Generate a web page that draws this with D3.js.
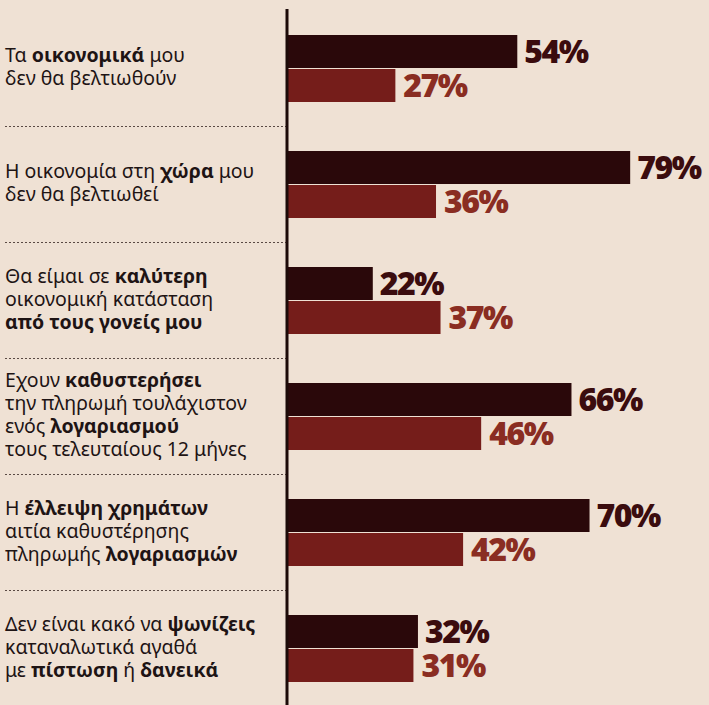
<!DOCTYPE html>
<html>
<head>
<meta charset="utf-8">
<script src="https://cdn.jsdelivr.net/npm/d3@7"></script>
<style>
  body { margin: 0; background: #efe1d4; }
  svg { display: block; }
  .cat { font-family: 'Noto Sans', sans-serif; font-size: 19.5px; fill: #1e1414; }
  .val { font-family: 'Open Sans', sans-serif; font-weight: 800; font-size: 32px; letter-spacing: -1.5px; }
</style>
</head>
<body>
<svg width="709" height="705"></svg>
<script>
// ** marks bold words, | breaks a line
const categories = [
  'Τα **οικονομικά** μου|δεν θα βελτιωθούν',
  'Η οικονομία στη **χώρα** μου|δεν θα βελτιωθεί',
  'Θα είμαι σε **καλύτερη**|οικονομική κατάσταση|**από τους γονείς μου**',
  'Εχουν **καθυστερήσει**|την πληρωμή τουλάχιστον|ενός **λογαριασμού**|τους τελευταίους 12 μήνες',
  'Η **έλλειψη χρημάτων**|αιτία καθυστέρησης|πληρωμής **λογαριασμών**',
  'Δεν είναι κακό να **ψωνίζεις**|καταναλωτικά αγαθά|με **πίστωση** ή **δανεικά**'
];
const darkValues = [54, 79, 22, 66, 70, 32];
const redValues = [27, 36, 37, 46, 42, 31];

const svg = d3.select('svg');
const axisX = 287;

const y = d3.scaleBand()
  .domain(categories)
  .range([10, 706]);

const x = d3.scaleLinear()
  .domain([3, 100])
  .range([axisX, axisX + 438]);

const barH = 33;

const groups = svg.selectAll('g.grp')
  .data(categories)
  .enter()
  .append('g')
  .attr('class', 'grp')
  .attr('transform', d => `translate(0, ${y(d)})`);

// dark bars
groups.append('rect')
  .attr('x', axisX)
  .attr('y', 25)
  .attr('width', (d, i) => x(darkValues[i]) - axisX)
  .attr('height', barH)
  .attr('fill', '#2a080a');

// red bars
groups.append('rect')
  .attr('x', axisX)
  .attr('y', 25 + barH + 1)
  .attr('width', (d, i) => x(redValues[i]) - axisX)
  .attr('height', barH)
  .attr('fill', '#751d1a');

groups.append('text')
  .attr('class', 'val')
  .attr('x', (d, i) => x(darkValues[i]) + 7)
  .attr('y', 25 + barH / 2)
  .attr('dy', '0.36em')
  .attr('fill', '#3b0c0e')
  .text((d, i) => darkValues[i] + '%');

groups.append('text')
  .attr('class', 'val')
  .attr('x', (d, i) => x(redValues[i]) + 8)
  .attr('y', 25 + barH * 1.5 + 1)
  .attr('dy', '0.36em')
  .attr('fill', '#8a2d22')
  .text((d, i) => redValues[i] + '%');

// category labels with bold parts
const lineH = 23;
groups.each(function (d) {
  const lines = d.split('|');
  const top = y.bandwidth() / 2 - 1 - (lines.length - 1) * lineH / 2;
  const t = d3.select(this).append('text')
    .attr('class', 'cat');
  lines.forEach((ln, li) => {
    let first = true;
    ln.split('**').forEach((part, pi) => {
      if (!part) return;
      const s = t.append('tspan').text(part);
      if (first) {
        s.attr('x', 5).attr('y', top + li * lineH).attr('dy', '0.35em');
        first = false;
      }
      if (pi % 2 === 1) s.attr('font-weight', 'bold');
    });
  });
});

// dotted separators between groups
svg.selectAll('line.sep')
  .data(categories.slice(1))
  .enter()
  .append('line')
  .attr('x1', 5)
  .attr('x2', axisX)
  .attr('y1', d => y(d) + 0.5)
  .attr('y2', d => y(d) + 0.5)
  .attr('stroke', '#5a4a44')
  .attr('stroke-width', 1)
  .attr('stroke-dasharray', '2,2');

// vertical axis line
svg.append('line')
  .attr('x1', axisX)
  .attr('x2', axisX)
  .attr('y1', 9)
  .attr('y2', 705)
  .attr('stroke', '#1c0a08')
  .attr('stroke-width', 3);
</script>
</body>
</html>
